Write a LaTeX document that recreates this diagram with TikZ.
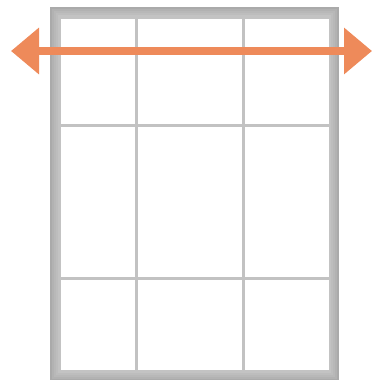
\documentclass[tikz,border=0pt]{standalone}
\usetikzlibrary{arrows.meta}
\definecolor{oiorange}{HTML}{EE8A5A}
\definecolor{mullion}{HTML}{C2C2C2}

\begin{document}
\begin{tikzpicture}[
  x=1pt, y=-1pt,
  bar/.style={draw=mullion, line width=3pt},
  span/.style={draw=oiorange, line width=8pt,
               {Triangle[length=28pt, width=45pt]}-{Triangle[length=28pt, width=45pt]}},
]
\useasboundingbox (0,0) rectangle (372,380);
% ---- window frame, darker toward the outside ----
\foreach \d/\c in {0/AAAAAA, 2/B2B2B2, 4/B8B8B8, 6/BDBDBD, 8/C3C3C3}{
  \definecolor{framecol}{HTML}{\c}
  \fill[framecol] (50+\d,7+\d) rectangle (339-\d,381-\d);
}
\fill[white] (61,19) rectangle (329,370);

% ---- mullions ----
\draw[bar] (136,19) -- (136,370);
\draw[bar] (243,19) -- (243,370);
\draw[bar] (61,125) -- (329,125);
\draw[bar] (61,278) -- (329,278);

% ---- width arrow ----
\coordinate (west) at (11,51);
\coordinate (east) at (372,51);
\draw[span] (west) -- (east);
\end{tikzpicture}
\end{document}
